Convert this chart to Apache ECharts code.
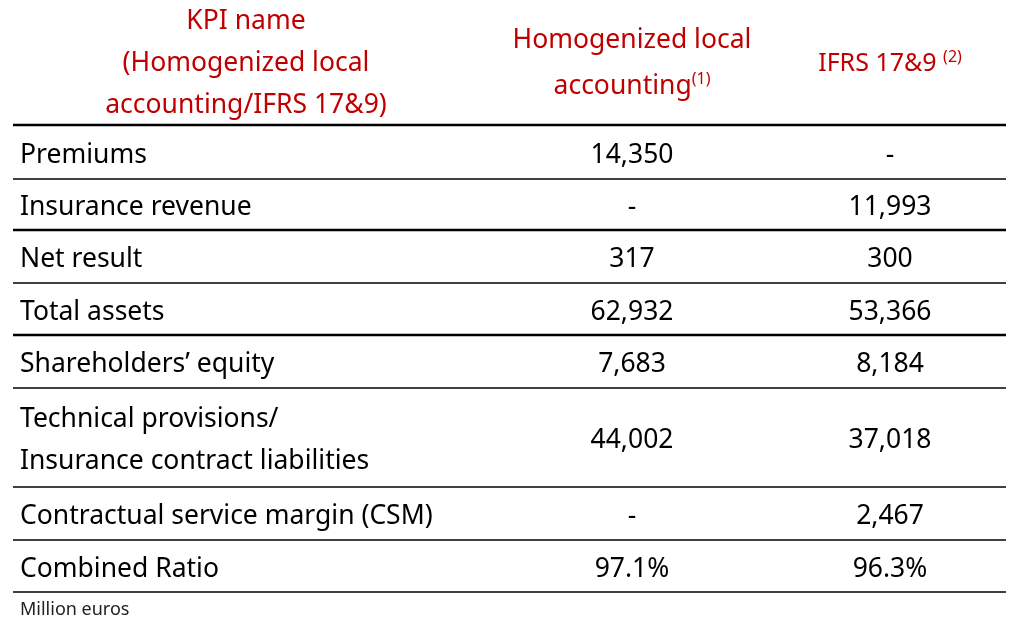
<!DOCTYPE html><html><head><meta charset="utf-8">
<script src="https://cdn.jsdelivr.net/npm/echarts@6/dist/echarts.min.js"></script>
<style>html,body{margin:0;background:#fff}#c{width:1015px;height:635px}</style></head><body><div id="c"></div>
<script>
const kpiNames = ["Premiums","Insurance revenue","Net result","Total assets","Shareholders\u2019 equity","Technical provisions/\nInsurance contract liabilities","Contractual service margin (CSM)","Combined Ratio"];
const localValues = ["14,350","-","317","62,932","7,683","44,002","-","97.1%"];
const ifrsValues = ["-","11,993","300","53,366","8,184","37,018","2,467","96.3%"];
const footnote = "Million euros";

const rowEdges = [125,179,230,283,335,388,487,540,592];
const thickEdges = [0,2,4];
const F = "'Noto Sans', sans-serif";
const red = "#c00000";
const g = [];
const txt = (x,y,t,align,extra) => g.push({type:'text',x,y,style:Object.assign({text:t,align,verticalAlign:'middle',font:'26.5px '+F,fill:'#000',lineHeight:42},extra||{})});
// header
txt(246,63,"KPI name\n(Homogenized local\naccounting/IFRS 17&9)",'center',{fill:red});
g.push({type:'text',x:632,y:63,style:{text:"Homogenized local\naccounting{s|(1)}",align:'center',verticalAlign:'middle',font:'26.5px '+F,fill:red,lineHeight:46,rich:{s:{fontSize:16,fill:red,fontFamily:F,padding:[0,0,14,0]}}}});
g.push({type:'text',x:890,y:64,style:{text:"IFRS 17&9 {s|(2)}",align:'center',verticalAlign:'middle',font:'25px '+F,fill:red,rich:{s:{fontSize:16,fill:red,fontFamily:F,padding:[0,0,14,0]}}}});
rowEdges.forEach((y,i)=>g.push({type:'line',shape:{x1:13,y1:y,x2:1006,y2:y},style:{stroke:'#000',lineWidth:thickEdges.includes(i)?2.4:1.7}}));
kpiNames.forEach((n,i)=>{
  const cy=(rowEdges[i]+rowEdges[i+1])/2+3;
  txt(20,cy,n,'left');
  txt(632,cy,localValues[i],'center');
  txt(890,cy,ifrsValues[i],'center');
});
g.push({type:'text',x:20,y:610,style:{text:footnote,align:'left',verticalAlign:'middle',font:'18px '+F,fill:'#222'}});
const chart = echarts.init(document.getElementById('c'));
chart.setOption({animation:false,graphic:g});
</script></body></html>
